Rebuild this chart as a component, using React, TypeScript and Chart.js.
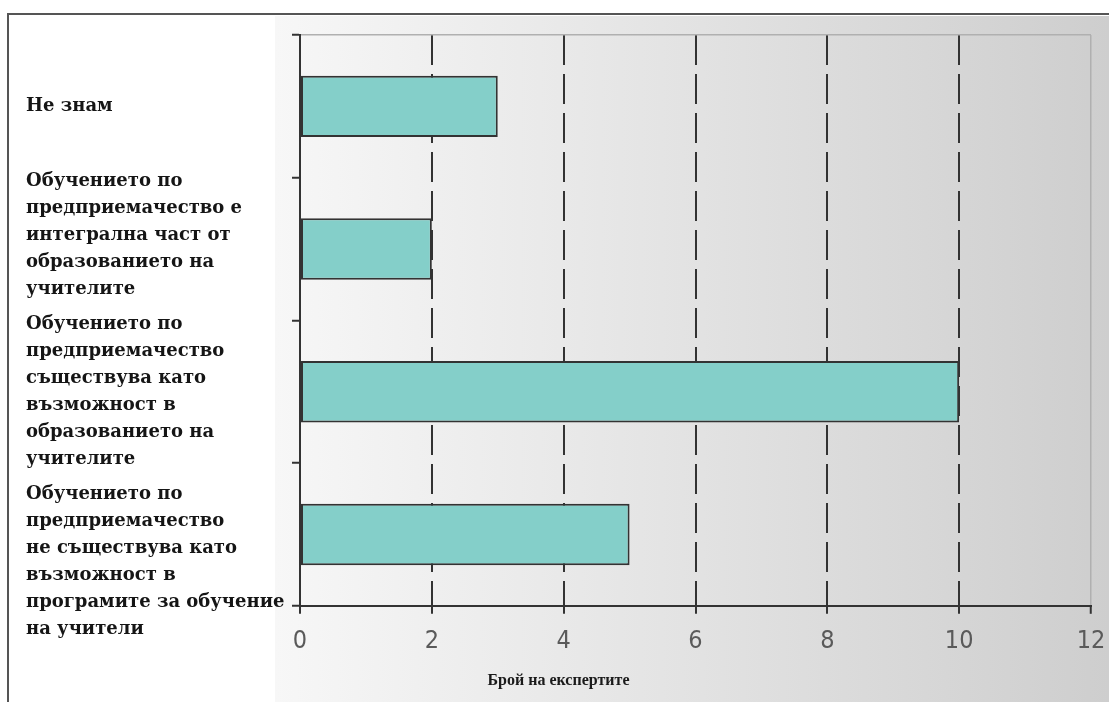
import React, { useEffect, useRef } from "react";
import { Chart, registerables } from "chart.js";

Chart.register(...registerables);

const categories: string[][] = [
  ["Не знам"],
  ["Обучението по", "предприемачество е", "интегрална част от", "образованието на", "учителите"],
  ["Обучението по", "предприемачество", "съществува като", "възможност в", "образованието на", "учителите"],
  ["Обучението по", "предприемачество", "не съществува като", "възможност в", "програмите за обучение", "на учители"],
];
const values: number[] = [3, 2, 10, 5];
const xMin = 0;
const xMax = 12;
const xStep = 2;
const xTitle = "Брой на експертите";

// layout only: blank lines added before/after a label to nudge it vertically
const labelPadBefore = [0, 0, 0, 2];
const labelPadAfter = [0, 1, 0, 0];

const bgPlugin = {
  id: "bandBg",
  beforeDraw(chart: any) {
    const { ctx, width, height, scales } = chart;
    const x0 = scales.y.right - 25;
    ctx.save();
    const g = ctx.createLinearGradient(x0, 0, width, 0);
    g.addColorStop(0, "#f7f7f7");
    g.addColorStop(1, "#cecece");
    ctx.fillStyle = g;
    ctx.fillRect(x0, 0, width - x0, height);
    ctx.restore();
  },
};

export default function App() {
  const ref = useRef<HTMLCanvasElement | null>(null);
  useEffect(() => {
    if (!ref.current) return;
    const chart = new Chart(ref.current, {
      type: "bar",
      data: {
        labels: categories,
        datasets: [
          {
            data: values,
            backgroundColor: "#84cfc9",
            borderColor: "#333333",
            borderWidth: 2,
            borderSkipped: false,
            categoryPercentage: 1,
            barPercentage: 0.43,
          },
        ],
      },
      options: {
        indexAxis: "y",
        animation: false,
        responsive: false,
        maintainAspectRatio: false,
        layout: { padding: { top: 19, right: 18, left: 16, bottom: 0 } },
        plugins: {
          legend: { display: false },
          tooltip: { enabled: false },
          title: {
            display: true,
            position: "bottom",
            text: xTitle,
            color: "#1a1a1a",
            font: { family: "'Liberation Serif', serif", size: 16, weight: "bold" },
            padding: { top: 4, bottom: 12 },
          },
        },
        scales: {
          x: {
            min: xMin,
            max: xMax,
            afterFit(scale: any) {
              scale.height = 61;
              scale.paddingLeft = 0;
              scale.paddingRight = 0;
            },
            ticks: {
              stepSize: xStep,
              color: "#5a5a5a",
              padding: 13,
              font: { family: "'DejaVu Sans Condensed', 'DejaVu Sans', sans-serif", size: 25 },
            },
            grid: {
              color: (c: any) => (c.tick && c.tick.value === xMax ? "#b0b0b0" : "#333"),
              lineWidth: (c: any) => (c.tick && c.tick.value === xMax ? 1.5 : 2),
              tickLength: 8,
              tickColor: "#333",
              tickWidth: 2,
            },
            border: {
              display: true,
              color: "#333",
              width: 2,
              dash: (c: any) =>
                c.tick && c.tick.value > xMin && c.tick.value < xMax ? [30, 9] : [],
            },
          },
          y: {
            afterFit(scale: any) {
              scale.width = 274;
              scale.paddingTop = 0;
              scale.paddingBottom = 0;
            },
            ticks: {
              autoSkip: false,
              crossAlign: "far",
              color: "#151515",
              font: { family: "'DejaVu Serif', serif", size: 18, weight: "bold", lineHeight: 1.5 },
              callback: (_v: any, i: number) => [
                ...Array(labelPadBefore[i] || 0).fill(""),
                ...categories[i],
                ...Array(labelPadAfter[i] || 0).fill(""),
              ],
            },
            grid: {
              offset: true,
              color: (c: any) => (c.index === 0 ? "#b0b0b0" : "rgba(0,0,0,0)"),
              lineWidth: 1.5,
              tickLength: 8,
              tickColor: "#333",
              tickWidth: 2,
            },
            border: { display: true, color: "#333", width: 2 },
          },
        },
      },
      plugins: [bgPlugin],
    } as any);
    return () => chart.destroy();
  }, []);

  return (
    <div style={{ position: "fixed", left: 0, top: 0, width: 1109, height: 702, overflow: "hidden", background: "#fff" }}>
      <div
        style={{
          position: "absolute",
          left: 7,
          top: 13,
          width: 1200,
          height: 800,
          borderTop: "2px solid #555",
          borderLeft: "2px solid #555",
        }}
      />
      <canvas
        ref={ref}
        width={1099}
        height={686}
        style={{ position: "absolute", left: 10, top: 16, width: 1099, height: 686 }}
      />
    </div>
  );
}
